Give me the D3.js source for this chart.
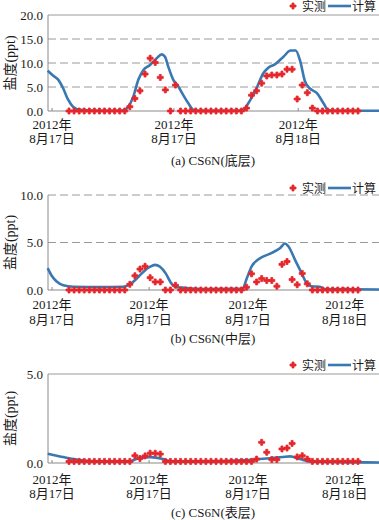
<!DOCTYPE html>
<html>
<head>
<meta charset="utf-8">
<script src="https://cdn.jsdelivr.net/npm/d3@7"></script>
<style>
  body { margin: 0; background: #fff; }
  svg text { font-family: "Liberation Serif", "Times New Roman", "Noto Sans CJK SC", serif; fill: #1a1a1a; }
</style>
</head>
<body>
<svg id="render" width="379" height="520"></svg>
<script>
// measured samples, index 0..57
const sampleIdx = d3.range(58);

const measuredA = [0,0,0,0,0,0,0,0,0,0,0,0,
  0.9,2.6,4.2,7.7,11.0,10.1,7.0,4.4,0,5.4,
  0,0,0,0,0,0,0,0,0,0,0,0,0,
  0.6,3.3,4.2,5.8,7.3,7.5,7.5,7.7,8.7,8.7,2.5,5.4,3.8,0.6,
  0,0,0,0,0,0,0,0,0];
const measuredB = [0,0,0,0,0,0,0,0,0,0,0,0,
  0.6,1.5,2.2,2.5,1.3,0.85,0.85,0,0,0.5,
  0,0,0,0,0,0,0,0,0,0,0,0,0,
  0.3,1.7,0.85,1.2,1.0,1.0,0.4,2.7,3.0,1.1,0.55,1.75,0.65,
  0,0,0,0,0,0,0,0,0,0];
const measuredC = [0.09,0.09,0.09,0.09,0.09,0.09,0.09,0.09,0.09,0.09,0.09,0.09,0.09,
  0.41,0.25,0.4,0.55,0.55,0.5,
  0.09,0.09,0.09,0.09,0.09,0.09,0.09,0.09,0.09,0.09,0.09,0.09,0.09,0.09,0.09,0.09,0.09,0.09,
  0.22,1.16,0.6,0.19,0.19,0.79,0.84,1.1,0.34,0.41,0.22,
  0.09,0.09,0.09,0.09,0.09,0.09,0.09,0.09,0.09,0.09];

// model curve: [sample index position, salinity]
const modelA = [[-4.2,8.4],[-3.16,7.4],[-2.17,6.6],[-1.18,4.8],[-0.2,2.4],[0.79,0.9],[2.17,0.25],
  [6.1,0.05],[10.1,0.05],[11.05,0.3],[11.7,0.9],[12.68,3.0],[13.67,6.5],[14.65,8.5],[15.98,9.6],
  [17.3,11.0],[18.28,11.8],[18.93,11.3],[19.59,9.2],[20.57,6.5],[21.56,5.1],[22.54,3.3],[23.53,1.6],
  [24.52,0.2],[25.44,0.02],[30,0.02],[34.3,0.1],[35.3,1.5],[37.0,4.8],[38.3,7.8],[39.3,9.0],
  [40.6,9.7],[42.3,11.3],[43.7,12.6],[44.7,12.6],[45.6,10.4],[46.5,6.3],[47.5,4.7],[48.9,3.7],
  [50.2,1.6],[51.1,0.2],[52.1,0.05],[61.2,0.05]];
const modelB = [[-4.2,2.3],[-3.41,1.5],[-2.43,0.9],[-1.12,0.5],[0.85,0.35],[6.1,0.3],[10.7,0.35],
  [12.03,0.6],[13.35,1.2],[14.65,1.9],[15.98,2.45],[16.96,2.65],[17.95,2.45],[19.07,1.75],
  [20.06,0.8],[20.91,0.35],[22.23,0.25],[25.84,0.1],[33.7,0.12],[34.3,0.2],[35.05,1.2],[36.04,2.5],
  [37.3,3.2],[39.98,3.9],[41.6,4.4],[42.6,4.9],[43.26,4.6],[44.6,3.15],[45.9,1.75],[46.9,0.7],
  [47.9,0.4],[49.5,0.35],[50.5,0.1],[61.2,0.05]];
const modelC = [[-4.2,0.52],[-1.78,0.37],[0.85,0.22],[3.49,0.13],[6.11,0.09],[12.03,0.09],[13.02,0.2],
  [14.0,0.3],[15.98,0.33],[18.54,0.22],[19.92,0.1],[25.84,0.09],[35.3,0.17],[39.0,0.25],[42.2,0.34],
  [43.6,0.37],[45.56,0.22],[47.53,0.09],[53.4,0.05],[61.2,0.03]];

const tickPosA = [-3.35, 20.7, 45.2];
const tickDayA = ["8月17日", "8月17日", "8月18日"];
const tickPosBC = [-3.35, 15.8, 35.3, 54.4];
const tickDayBC = ["8月17日", "8月17日", "8月17日", "8月18日"];

const panels = [
  {meas: measuredA, model: modelA, ymax: 20, yticks: [0,5,10,15,20], top: 15, bottom: 111,
   ticks: tickPosA, days: tickDayA, lab1: 129, lab2: 143, cap: 165, capText: "(a) CS6N(底层)", leg: 6, topDashed: false},
  {meas: measuredB, model: modelB, ymax: 10, yticks: [0,5,10], top: 195, bottom: 290,
   ticks: tickPosBC, days: tickDayBC, lab1: 309, lab2: 324, cap: 343, capText: "(b) CS6N(中层)", leg: 188, topDashed: true},
  {meas: measuredC, model: modelC, ymax: 5, yticks: [0,5], top: 374, bottom: 463,
   ticks: tickPosBC, days: tickDayBC, lab1: 484, lab2: 498, cap: 517, capText: "(c) CS6N(表层)", leg: 365, topDashed: false}
];

const svg = d3.select("svg#render");
const red = "#e5262b", blue = "#3a78b2", grid = "#9a9a9a";
const left = 48, right = 379;

const x = d3.scaleLinear().domain([-4.142, 61.14]).range([left, right]);
const cross = d3.symbol().type(d3.symbolCross).size(20);

panels.forEach(p => {
    const y = d3.scaleLinear().domain([0, p.ymax]).range([p.bottom, p.top]);
    const g = svg.append("g");

    // grid lines
    g.selectAll(".grid")
        .data(p.yticks.filter(v => v > 0))
        .enter()
        .append("line")
        .attr("x1", left).attr("x2", right)
        .attr("y1", d => y(d)).attr("y2", d => y(d))
        .attr("stroke", grid)
        .attr("stroke-width", 1)
        .attr("stroke-dasharray", d => (d === p.ymax && !p.topDashed) ? null : "8,4");

    // axes
    g.append("line").attr("x1", left).attr("x2", left).attr("y1", p.top).attr("y2", p.bottom)
        .attr("stroke", "#8a8a8a");
    g.append("line").attr("x1", left).attr("x2", right).attr("y1", p.bottom).attr("y2", p.bottom)
        .attr("stroke", "#8a8a8a");

    g.selectAll(".ylab")
        .data(p.yticks)
        .enter()
        .append("text")
        .attr("x", 43)
        .attr("y", d => y(d))
        .attr("dy", "0.35em")
        .attr("text-anchor", "end")
        .style("font-size", "13px")
        .text(d => d.toFixed(1));

    g.append("text")
        .attr("transform", `translate(15, ${(p.top + p.bottom) / 2}) rotate(-90)`)
        .attr("text-anchor", "middle")
        .style("font-size", "14px")
        .text("盐度(ppt)");

    // x ticks and labels
    g.selectAll(".xt")
        .data(p.ticks)
        .enter()
        .append("line")
        .attr("x1", d => x(d)).attr("x2", d => x(d))
        .attr("y1", p.bottom).attr("y2", p.bottom - 3)
        .attr("stroke", "#8a8a8a");
    g.selectAll(".xl1")
        .data(p.ticks)
        .enter()
        .append("text")
        .attr("x", d => x(d))
        .attr("y", p.lab1)
        .attr("text-anchor", "middle")
        .style("font-size", "13px")
        .text("2012年");
    g.selectAll(".xl2")
        .data(p.ticks)
        .enter()
        .append("text")
        .attr("x", d => x(d))
        .attr("y", p.lab2)
        .attr("text-anchor", "middle")
        .style("font-size", "13px")
        .text((d, i) => p.days[i]);

    g.append("text")
        .attr("x", 213)
        .attr("y", p.cap)
        .attr("text-anchor", "middle")
        .style("font-size", "13px")
        .text(p.capText);

    // model line
    const line = d3.line()
        .x(d => x(d[0]))
        .y(d => y(d[1]))
        .curve(d3.curveMonotoneX);
    g.append("path")
        .datum(p.model)
        .attr("d", line)
        .attr("fill", "none")
        .attr("stroke", blue)
        .attr("stroke-width", 2.6)
        .attr("stroke-linejoin", "round");

    // measured points
    g.selectAll(".pt")
        .data(p.meas)
        .enter()
        .append("path")
        .attr("d", cross)
        .attr("transform", (d, i) => `translate(${x(sampleIdx[i])}, ${y(d)})`)
        .attr("fill", red)
        .attr("stroke", red)
        .attr("stroke-width", 0.8)
        .attr("stroke-linejoin", "round");

    // legend
    g.append("path")
        .attr("d", cross)
        .attr("transform", `translate(293, ${p.leg})`)
        .attr("fill", red)
        .attr("stroke", red)
        .attr("stroke-width", 0.8);
    g.append("text")
        .attr("x", 302).attr("y", p.leg + 4.5)
        .style("font-size", "12px")
        .text("实测");
    g.append("line")
        .attr("x1", 328).attr("x2", 351)
        .attr("y1", p.leg).attr("y2", p.leg)
        .attr("stroke", blue)
        .attr("stroke-width", 2.6);
    g.append("text")
        .attr("x", 352).attr("y", p.leg + 4.5)
        .style("font-size", "12px")
        .text("计算");
});
</script>
</body>
</html>
